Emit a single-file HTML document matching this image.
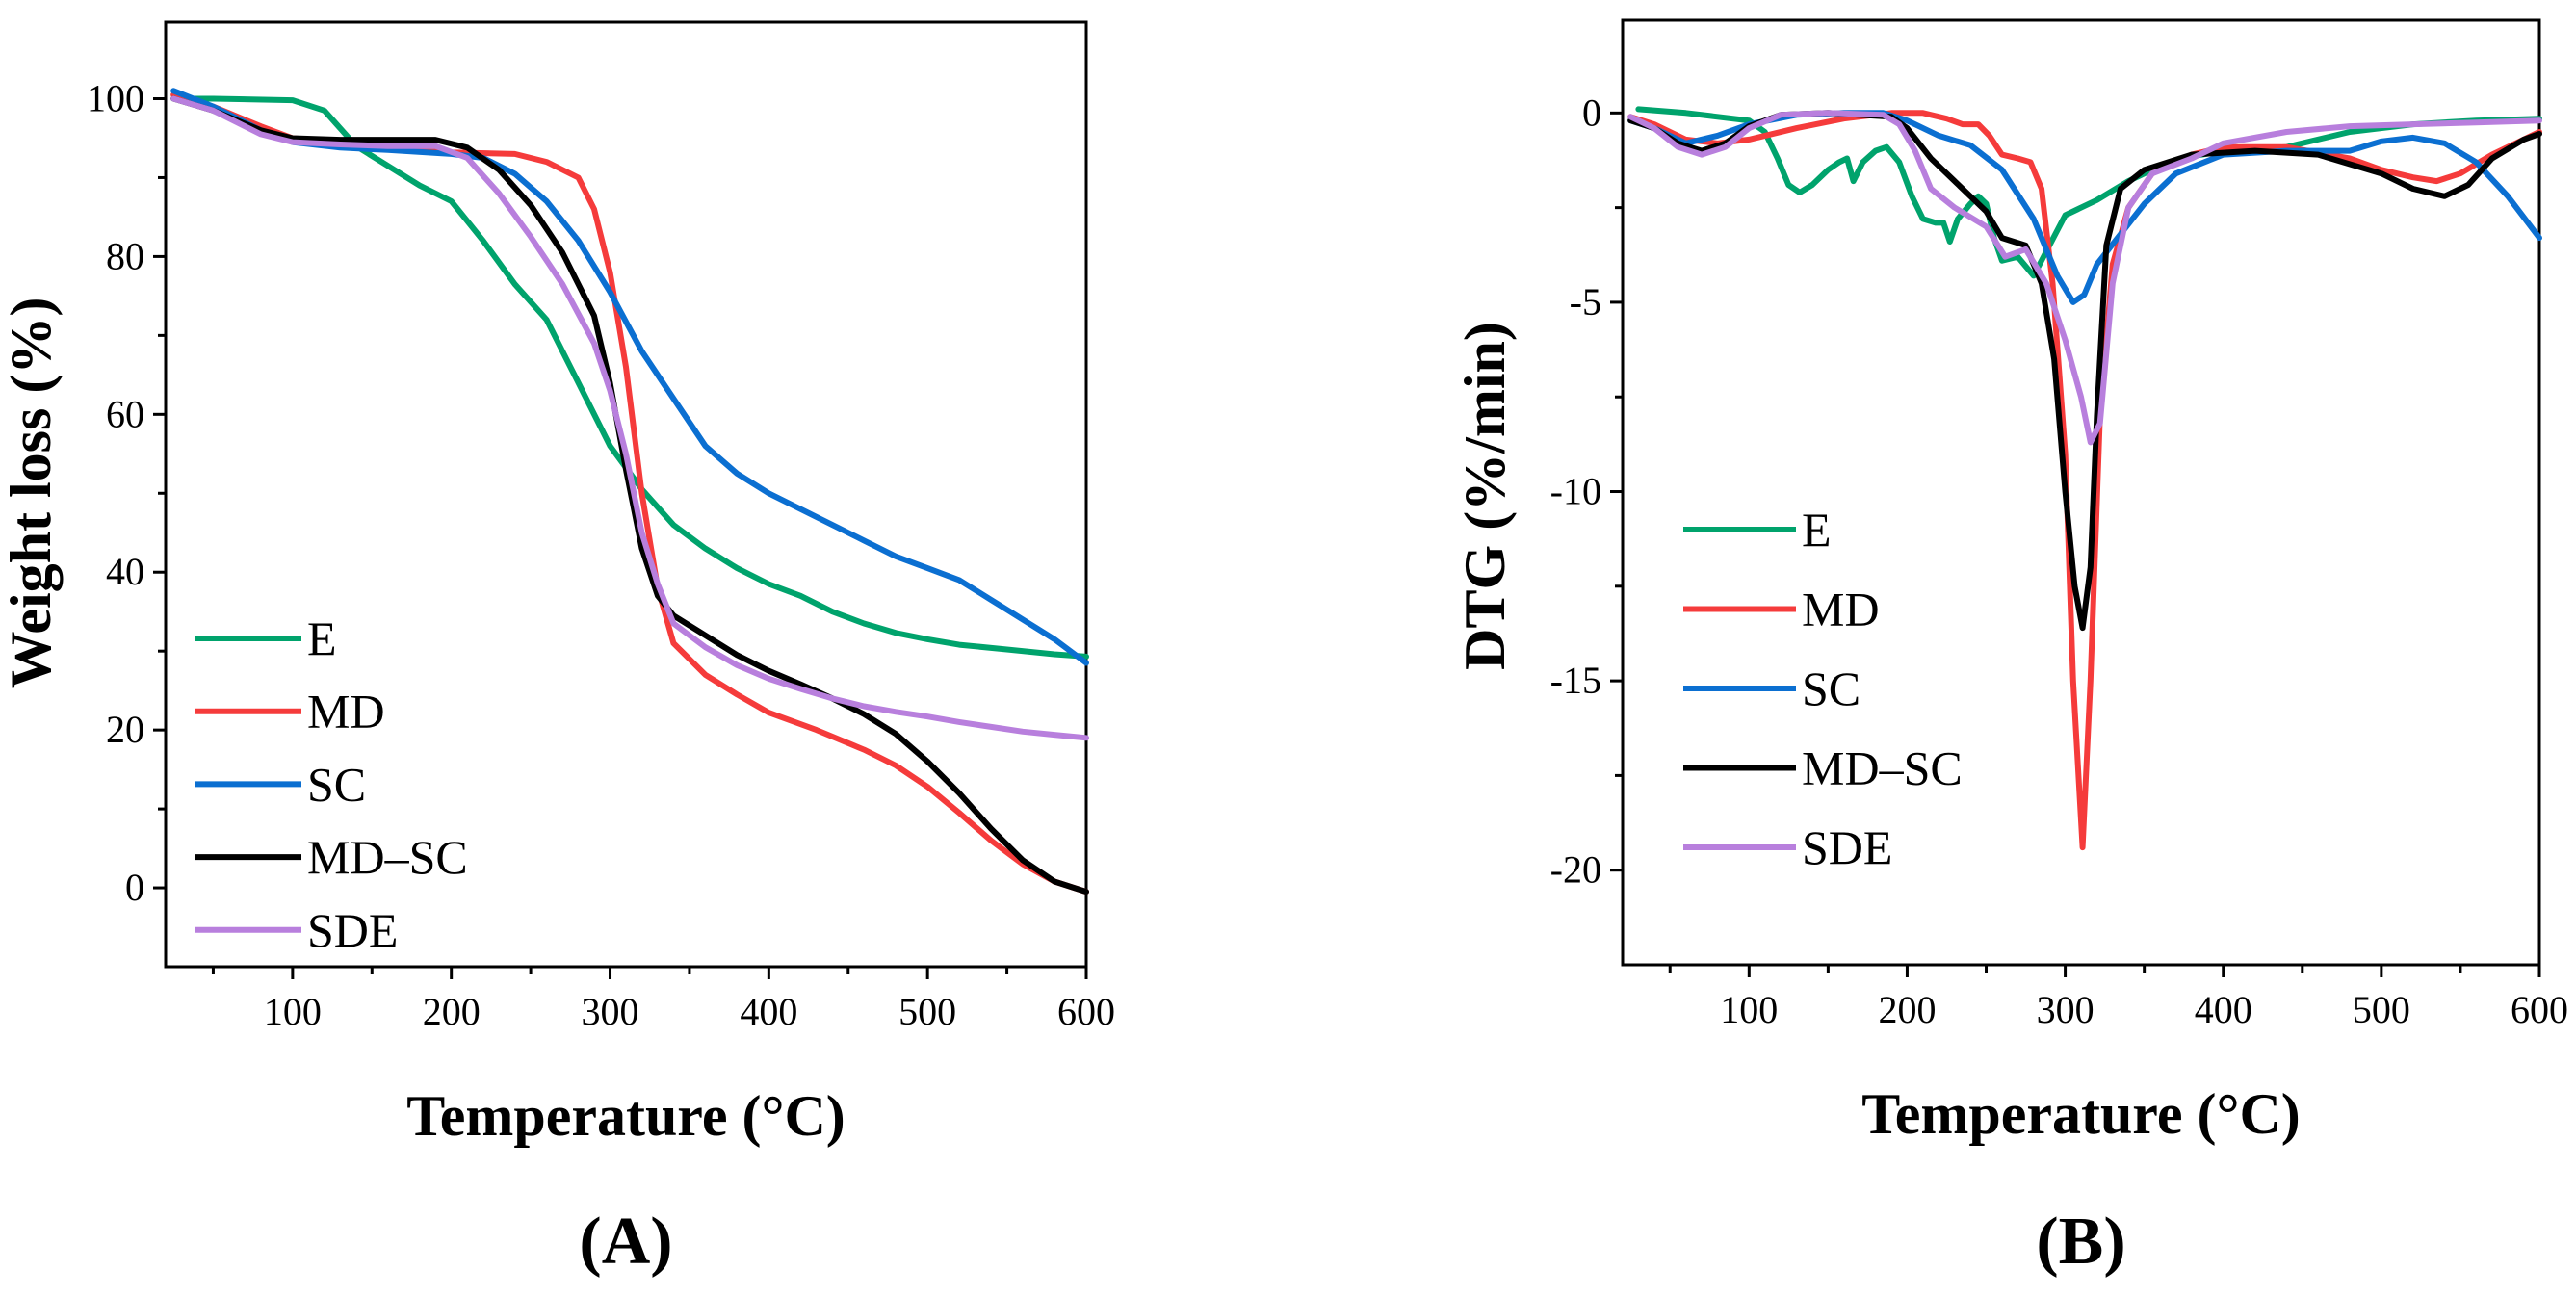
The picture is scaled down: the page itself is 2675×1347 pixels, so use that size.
<!DOCTYPE html>
<html><head><meta charset="utf-8"><style>
html,body{margin:0;padding:0;background:#fff;}
svg{display:block;font-family:"Liberation Serif",serif;}
</style></head><body>
<svg id="fig" width="2675" height="1347" viewBox="0 0 2675 1347"></svg>
<script>
// ---- Data: Panel A (TG weight loss, %) ----
const tempA_E=[25,50,100,120,140,160,180,200,220,240,260,280,300,320,340,360,380,400,420,440,460,480,500,520,550,580,600];
const wA_E=[100,100,99.8,98.5,94,91.5,89,87,82,76.5,72,64,56,50.5,46,43,40.5,38.5,37,35,33.5,32.3,31.5,30.8,30.2,29.6,29.3];
const tempA_MD=[25,50,80,100,130,160,200,240,260,280,290,300,310,320,330,340,360,380,400,430,460,480,500,520,540,560,580,600];
const wA_MD=[100.5,99,96.5,95,94.5,94,93.2,93,92,90,86,78,66,50,38,31,27,24.5,22.2,20,17.5,15.5,12.8,9.5,6,3,0.8,-0.5];
const tempA_SC=[25,50,80,100,130,160,200,220,240,260,280,300,320,340,360,380,400,420,440,460,480,500,520,540,560,580,600];
const wA_SC=[101,99,96,94.5,93.8,93.5,93,92.5,90.5,87,82,75.5,68,62,56,52.5,50,48,46,44,42,40.5,39,36.5,34,31.5,28.5];
const tempA_MDSC=[25,50,80,100,130,160,190,210,230,250,270,290,300,310,320,330,340,360,380,400,420,440,460,480,500,520,540,560,580,600];
const wA_MDSC=[100,98.5,96,95,94.8,94.8,94.8,93.8,91,86.5,80.5,72.5,64,53,43,37,34.5,32,29.5,27.5,25.8,24,22,19.5,16,12,7.5,3.5,0.8,-0.5];
const tempA_SDE=[25,50,80,100,130,160,190,210,230,250,270,290,300,310,320,330,340,360,380,400,420,440,460,480,500,520,540,560,580,600];
const wA_SDE=[100,98.5,95.5,94.5,94.2,94,94,92.5,88,82.5,76.5,69,63,55,45,38.5,33.5,30.5,28.2,26.5,25.2,24,23,22.3,21.7,21,20.4,19.8,19.4,19];
// ---- Data: Panel B (DTG, %/min) ----
const tempB_E=[30,60,100,110,118,125,132,140,150,157,162,166,172,180,187,195,203,210,218,223,227,232,240,245,250,255,260,270,280,290,300,320,340,360,380,400,440,480,520,560,600];
const dB_E=[0.1,0,-0.2,-0.5,-1.2,-1.9,-2.1,-1.9,-1.5,-1.3,-1.2,-1.8,-1.3,-1.0,-0.9,-1.3,-2.2,-2.8,-2.9,-2.9,-3.4,-2.8,-2.4,-2.2,-2.4,-3.3,-3.9,-3.8,-4.3,-3.5,-2.7,-2.3,-1.8,-1.4,-1.15,-1.0,-0.9,-0.5,-0.3,-0.2,-0.15];
const tempB_MD=[25,40,60,80,100,130,160,190,210,225,235,245,252,260,270,278,285,292,300,305,311,316,322,330,340,355,380,400,440,480,500,520,535,550,570,600];
const dB_MD=[-0.1,-0.3,-0.7,-0.8,-0.7,-0.4,-0.15,0,0,-0.15,-0.3,-0.3,-0.6,-1.1,-1.2,-1.3,-2.0,-4.5,-9,-15,-19.4,-15,-8,-4,-2.5,-1.6,-1.1,-0.9,-0.9,-1.2,-1.5,-1.7,-1.8,-1.6,-1.1,-0.5];
const tempB_SC=[25,40,60,80,100,130,160,185,200,220,240,260,280,295,305,312,320,335,350,370,400,440,480,500,520,540,560,580,600];
const dB_SC=[-0.2,-0.4,-0.8,-0.6,-0.3,-0.05,0,0,-0.2,-0.6,-0.85,-1.5,-2.8,-4.3,-5.0,-4.8,-4.0,-3.2,-2.4,-1.6,-1.1,-1.0,-1.0,-0.75,-0.65,-0.8,-1.3,-2.2,-3.3];
const tempB_MDSC=[25,40,55,70,85,100,120,150,190,200,215,230,250,260,275,285,293,300,306,311,316,320,326,335,350,380,420,460,500,520,540,555,570,590,600];
const dB_MDSC=[-0.2,-0.4,-0.8,-1.0,-0.8,-0.35,-0.05,0,-0.1,-0.4,-1.2,-1.8,-2.6,-3.3,-3.5,-4.5,-6.5,-10,-12.5,-13.6,-12,-8,-3.5,-2.0,-1.5,-1.1,-1.0,-1.1,-1.6,-2.0,-2.2,-1.9,-1.2,-0.7,-0.55];
const tempB_SDE=[25,40,55,70,85,100,120,150,185,195,205,215,230,250,262,275,288,300,310,316,322,330,340,355,380,400,440,480,520,560,600];
const dB_SDE=[-0.1,-0.4,-0.9,-1.1,-0.9,-0.4,-0.05,0,-0.05,-0.3,-1.0,-2.0,-2.5,-3.0,-3.8,-3.6,-4.5,-6,-7.5,-8.7,-8.2,-4.5,-2.5,-1.6,-1.2,-0.8,-0.5,-0.35,-0.3,-0.25,-0.2];
const seriesNames=["E","MD","SC","MD–SC","SDE"];
const xTickLabels=["100","200","300","400","500","600"];
const yTickLabelsA=["0","20","40","60","80","100"];
const yTickLabelsB=["-20","-15","-10","-5","0"];

const colors=["#00a36c","#f53b3b","#0b6fd1","#000000","#b87fdd"];
const NS="http://www.w3.org/2000/svg";
const svg=document.getElementById('fig');
function mk(tag,attrs,parent){const e=document.createElementNS(NS,tag);for(const k in attrs)e.setAttribute(k,attrs[k]);(parent||svg).appendChild(e);return e;}

function panel(cfg){
  const {L,R,T,B,xmin,xmax,ymin,ymax}=cfg;
  const g=mk('g',{});
  
  
  const sx=v=>L+(v-xmin)/(xmax-xmin)*(R-L);
  const sy=v=>B-(v-ymin)/(ymax-ymin)*(B-T);
  const fr=mk('rect',{x:L,y:T,width:R-L,height:B-T,fill:'none',stroke:'#000','stroke-width':3},g);
  
  
  for(let v=50;v<=600;v+=50){
    const major=v%100===0;
    const t=mk('line',{x1:sx(v),x2:sx(v),y1:B,y2:B+(major?13:8),stroke:'#000','stroke-width':3},g);
    
    
  }
  xTickLabels.forEach(s=>{
    const t=mk('text',{x:sx(+s),y:B+60,'text-anchor':'middle','font-size':40},g);
    
    
    t.textContent=s;
  });
  for(let v=cfg.ymaj0;v<=ymax+1e-9;v+=cfg.yminor){
    const idx=Math.round((v-cfg.ymaj0)/cfg.yminor);
    const major=idx%2===0;
    if(v<ymin)continue;
    const t=mk('line',{x1:L,x2:L-(major?13:8),y1:sy(v),y2:sy(v),stroke:'#000','stroke-width':3},g);
    
    
  }
  cfg.yLabels.forEach(s=>{
    const t=mk('text',{x:L-22,y:sy(+s)+13,'text-anchor':'end','font-size':40},g);
    
    
    t.textContent=s;
  });
  cfg.series.forEach((s,i)=>{
    const pts=s[0].map((x,j)=>sx(x).toFixed(1)+','+sy(s[1][j]).toFixed(1)).join(' ');
    const p=mk('polyline',{points:pts,fill:'none',stroke:colors[i],'stroke-width':6,'stroke-linejoin':'round','stroke-linecap':'round'},g);
    
    
  });
  seriesNames.forEach((n,i)=>{
    const y=cfg.legY+i*cfg.legDy;
    const ln=mk('line',{x1:cfg.legX,x2:cfg.legX+cfg.legW,y1:y,y2:y,stroke:colors[i],'stroke-width':6},g);
    
    
    const t=mk('text',{x:cfg.legX+cfg.legW+6,y:y+17,'font-size':50},g);
    
    
    t.textContent=n;
  });
  const xt=mk('text',{x:(L+R)/2,y:B+175,'text-anchor':'middle','font-size':60,'font-weight':'bold'},g);
  
  
  xt.textContent='Temperature (°C)';
  const yt=mk('text',{x:0,y:0,'text-anchor':'middle','font-size':60,'font-weight':'bold',transform:`translate(${cfg.ytX},${cfg.ytY}) rotate(-90)`},g);
  
  
  yt.textContent=cfg.yTitle;
  const pl=mk('text',{x:(L+R)/2,y:cfg.plY,'text-anchor':'middle','font-size':70,'font-weight':'bold'},g);
  
  
  pl.textContent=cfg.panelLabel;
}

panel({name:'panel-a-weight-loss',L:172,R:1128,T:23,B:1004,xmin:20,xmax:600,ymin:-10,ymax:109.7,
  ymaj0:0,yminor:10,yLabels:yTickLabelsA,
  series:[[tempA_E,wA_E],[tempA_MD,wA_MD],[tempA_SC,wA_SC],[tempA_MDSC,wA_MDSC],[tempA_SDE,wA_SDE]],
  legX:203,legW:110,legY:663,legDy:75.7,yTitle:'Weight loss (%)',ytX:52,ytY:512,panelLabel:'(A)',plY:1312});
panel({name:'panel-b-dtg',L:1685,R:2637,T:21,B:1002,xmin:20,xmax:600,ymin:-22.5,ymax:2.45,
  ymaj0:-20,yminor:2.5,yLabels:yTickLabelsB,
  series:[[tempB_E,dB_E],[tempB_MD,dB_MD],[tempB_SC,dB_SC],[tempB_MDSC,dB_MDSC],[tempB_SDE,dB_SDE]],
  legX:1748,legW:117,legY:550,legDy:82.5,yTitle:'DTG (%/min)',ytX:1562,ytY:515,panelLabel:'(B)',plY:1312});
</script>
</body></html>
